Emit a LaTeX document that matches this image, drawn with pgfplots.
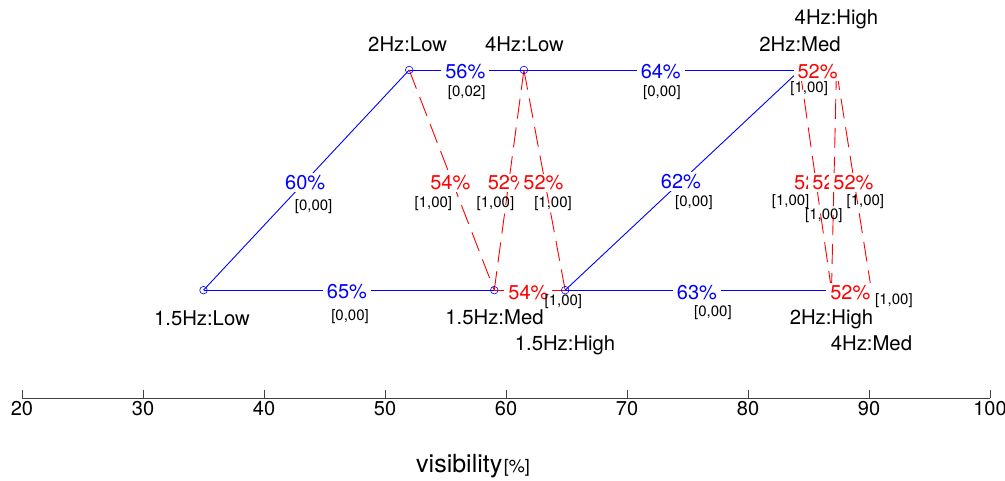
\documentclass[border=0pt]{standalone}
\usepackage{pgfplots}
\pgfplotsset{compat=1.18}
\usepackage{fontspec}
\setmainfont{TeX Gyre Heros}
\begin{document}
\begin{tikzpicture}[
  pct/.style={anchor=base, fill=white, inner xsep=4pt, inner ysep=2pt, font=\fontsize{20}{24}\selectfont},
  brk/.style={anchor=base, inner sep=0pt, text=black, font=\fontsize{15}{18}\selectfont},
  nlab/.style={anchor=base, inner sep=0pt, text=black, font=\fontsize{20.3}{24}\selectfont},
  rd/.style={red, line width=0.9pt, dash pattern=on 20pt off 9pt},
  bl/.style={blue, line width=0.9pt},
]
\begin{axis}[
  scale only axis, width=968pt, height=398pt,
  xmin=20, xmax=100, ymin=-0.4898, ymax=1.318,
  axis x line*=bottom, axis y line=none,
  xtick={20,30,...,100}, ytick=\empty,
  tick align=inside, major tick length=8pt,
  x axis line style={line width=0.7pt, color=black!75},
  xtick style={black!75, line width=0.7pt},
  /pgf/number format/assume math mode=true,
  xticklabel style={font=\fontsize{20}{22}\selectfont},
  clip=false,
]
% blue solid edges
\addplot[bl] coordinates {(35.0,0) (52.0,1)};
\addplot[bl] coordinates {(35.0,0) (59.03,0)};
\addplot[bl] coordinates {(52.0,1) (61.48,1)};
\addplot[bl] coordinates {(61.48,1) (84.30,1)};
\addplot[bl] coordinates {(64.89,0) (84.30,1)};
\addplot[bl] coordinates {(64.89,0) (86.90,0)};
% red dashed edges
\addplot[rd] coordinates {(52.0,1) (59.03,0)};
\addplot[rd] coordinates {(61.48,1) (59.03,0)};
\addplot[rd] coordinates {(61.48,1) (64.89,0)};
\addplot[rd] coordinates {(59.03,0) (64.89,0)};
\addplot[rd] coordinates {(84.30,1) (87.31,1)};
\addplot[rd] coordinates {(84.30,1) (86.90,0)};
\addplot[rd] coordinates {(87.31,1) (86.90,0)};
\addplot[rd] coordinates {(87.31,1) (90.20,0)};
\addplot[rd] coordinates {(86.90,0) (90.20,0)};
% nodes (those at the right are hidden under their labels in the reference)
\addplot[only marks, mark=o, blue, mark size=3.8pt, mark options={line width=0.6pt}] coordinates {
(35.0,0) (52.0,1) (61.48,1) (59.03,0) (64.89,0)};
% node labels
\node[nlab] at (axis cs:34.87,-0.1583) {1.5Hz:Low};
\node[nlab] at (axis cs:51.87,1.0830) {2Hz:Low};
\node[nlab] at (axis cs:61.52,1.0830) {4Hz:Low};
\node[nlab] at (axis cs:59.05,-0.1565) {1.5Hz:Med};
\node[nlab] at (axis cs:64.88,-0.2744) {1.5Hz:High};
\node[nlab] at (axis cs:87.31,1.2068) {4Hz:High};
\node[nlab] at (axis cs:84.30,1.0862) {2Hz:Med};
\node[nlab] at (axis cs:86.90,-0.1565) {2Hz:High};
\node[nlab] at (axis cs:90.20,-0.2744) {4Hz:Med};
% percent labels
\node[pct, text=blue] at (axis cs:43.40,0.4585) {60\%};
\node[pct, text=blue] at (axis cs:46.86,-0.0372) {65\%};
\node[pct, text=blue] at (axis cs:56.64,0.9605) {56\%};
\node[pct, text=blue] at (axis cs:72.79,0.9605) {64\%};
\node[pct, text=blue] at (axis cs:74.46,0.4617) {62\%};
\node[pct, text=blue] at (axis cs:75.78,-0.0404) {63\%};
\node[pct, text=red] at (axis cs:55.40,0.4558) {54\%};
\node[pct, text=red] at (axis cs:60.15,0.4558) {52\%};
\node[pct, text=red] at (axis cs:63.09,0.4558) {52\%};
\node[pct, text=red] at (axis cs:61.85,-0.0404) {54\%};
\node[pct, text=red] at (axis cs:85.75,0.9605) {52\%};
\node[pct, text=red] at (axis cs:85.47,0.4585) {52\%};
\node[pct, text=red] at (axis cs:86.98,0.4585) {52\%};
\node[pct, text=red] at (axis cs:88.71,0.4585) {52\%};
\node[pct, text=red] at (axis cs:88.46,-0.0404) {52\%};
% bracket labels
\node[brk] at (axis cs:44.10,0.3596) {[0,00]};
\node[brk] at (axis cs:47.11,-0.1392) {[0,00]};
\node[brk] at (axis cs:56.75,0.8785) {[0,02]};
\node[brk] at (axis cs:72.89,0.8798) {[0,00]};
\node[brk] at (axis cs:75.53,0.3810) {[0,00]};
\node[brk] at (axis cs:77.10,-0.1211) {[0,00]};
\node[brk] at (axis cs:54.00,0.3751) {[1,00]};
\node[brk] at (axis cs:59.13,0.3764) {[1,00]};
\node[brk] at (axis cs:63.89,0.3764) {[1,00]};
\node[brk] at (axis cs:64.74,-0.0712) {[1,00]};
\node[brk] at (axis cs:85.06,0.8966) {[1,00]};
\node[brk] at (axis cs:83.52,0.3855) {[1,00]};
\node[brk] at (axis cs:86.27,0.3220) {[1,00]};
\node[brk] at (axis cs:89.70,0.3855) {[1,00]};
\node[brk] at (axis cs:92.06,-0.0635) {[1,00]};
% x label
\node[anchor=base, inner sep=0pt] at (axis description cs:0.4660,-0.186) {{\fontsize{25}{30}\selectfont visibility}\,{\fontsize{18}{22}\selectfont [\%]}};
\coordinate (BL) at (rel axis cs:0,0);
\coordinate (TR) at (rel axis cs:1,1);
\end{axis}
\pgfresetboundingbox
\path[use as bounding box] ([shift={(-22pt,-83pt)}]BL) rectangle ([shift={(15pt,0pt)}]TR);
\end{tikzpicture}
\end{document}
